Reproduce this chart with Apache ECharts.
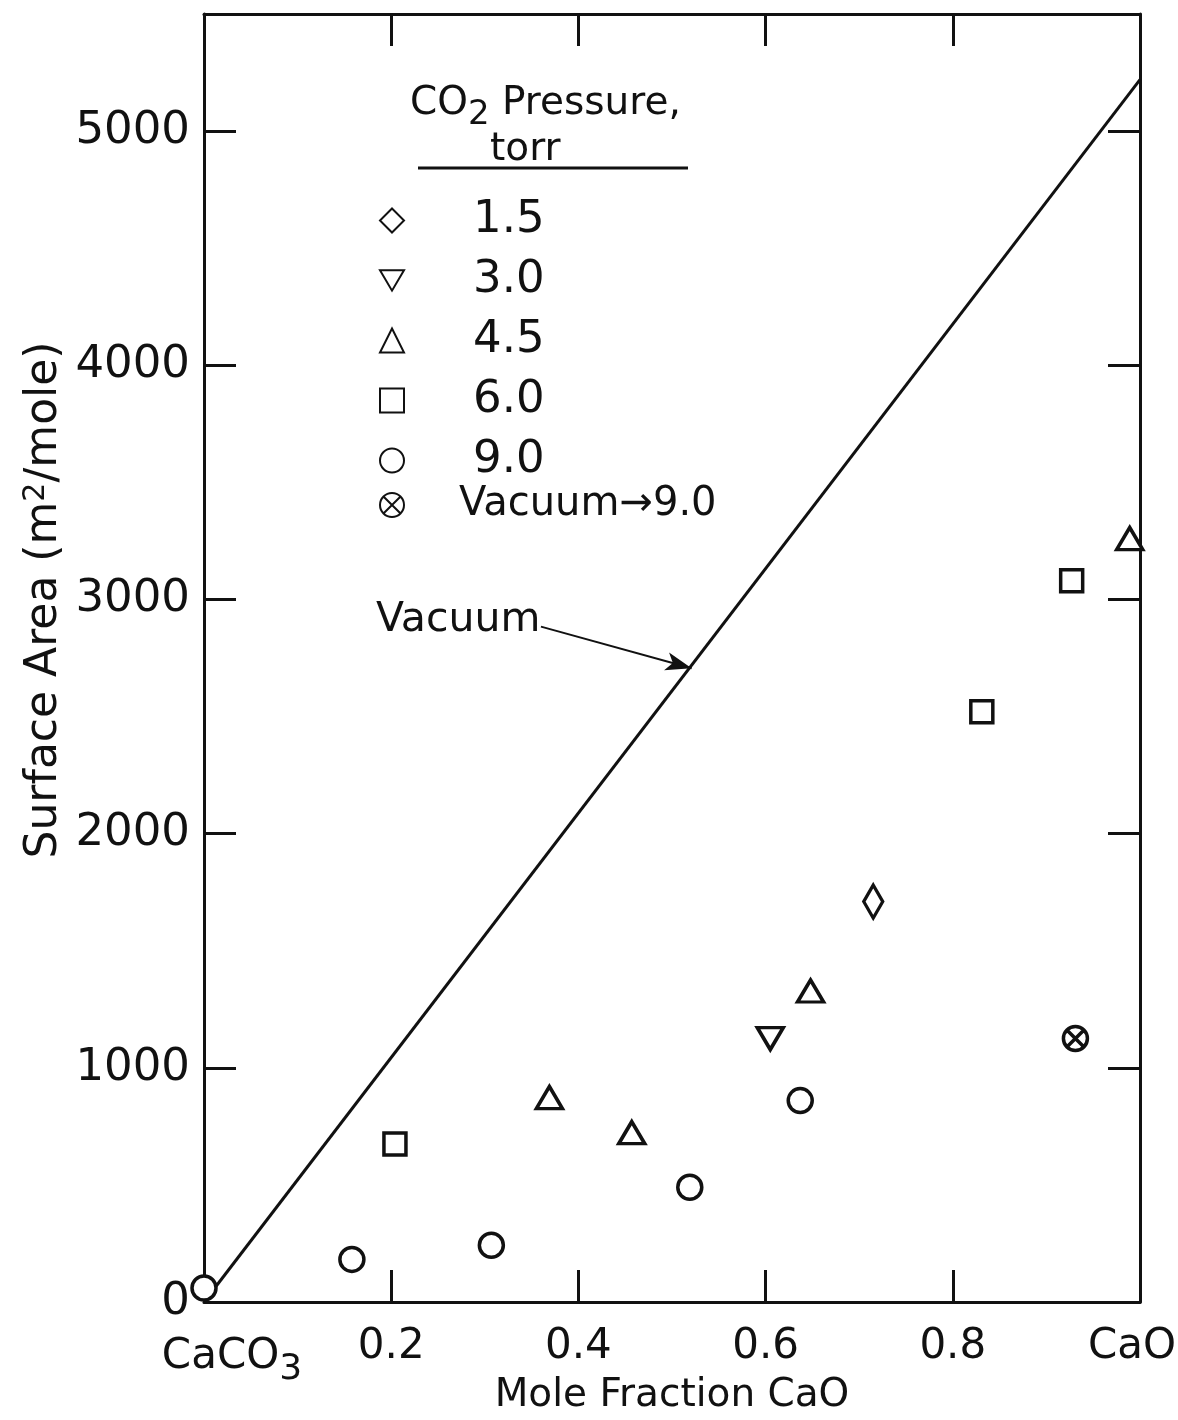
<!DOCTYPE html>
<html>
<head>
<meta charset="utf-8">
<script src="https://cdn.jsdelivr.net/npm/echarts@6/dist/echarts.min.js"></script>
<style>
  html, body { margin: 0; padding: 0; background: #fff; }
  #main { width: 1178px; height: 1420px; }
</style>
</head>
<body>
<div id="main"></div>
<script>
// tick labels
var xTicks = [0, 0.2, 0.4, 0.6, 0.8, 1.0];
var xTickLabels = ['{n|CaCO}{s|3}', '0.2', '0.4', '0.6', '0.8', '{r|CaO}'];

// data points: [mole fraction CaO, surface area]
var p15 = [[0.715, 1710]];
var p30 = [[0.605, 1125]];
var p45 = [[0.369, 873], [0.457, 723], [0.648, 1328], [0.989, 3260]];
var p60 = [[0.204, 675], [0.831, 2520], [0.927, 3080]];
var p90 = [[0, 60], [0.158, 182], [0.307, 242], [0.519, 490], [0.637, 860]];
var pVac90 = [[0.931, 1125]];
var vacuumLine = [[0, 0], [1.0, 5220]];
var vacuumArrow = [[0.36, 2884], [0.521, 2706]];

var FONT = 'DejaVu Sans';
var INK = '#111';
var otimes = 'path://M0,-10A10,10,0,1,1,0,10A10,10,0,1,1,0,-10ZM-6.5,-6.5L6.5,6.5M6.5,-6.5L-6.5,6.5';
var downTri = 'path://M0,0L26,0L13,22Z';

function pts(name, data, symbol, size) {
  return {
    name: name,
    type: 'scatter',
    data: data,
    symbol: symbol,
    symbolSize: size,
    itemStyle: { color: '#fff', borderColor: INK, borderWidth: 3.5, opacity: 1 },
    z: 5
  };
}

var axisLine = { show: true, onZero: false, lineStyle: { color: INK, width: 3 } };
var axisTick = { show: true, inside: true, length: 32, lineStyle: { color: INK, width: 3 } };

var chart = echarts.init(document.getElementById('main'));
chart.setOption({
  backgroundColor: '#fff',
  animation: false,
  textStyle: { fontFamily: FONT, color: INK },
  grid: { left: 204, right: 38, top: 14, bottom: 118, outerBoundsMode: 'none', containLabel: false },
  xAxis: [{
    type: 'value', min: 0, max: 1, interval: 0.2, position: 'bottom',
    axisLine: axisLine, axisTick: axisTick, splitLine: { show: false },
    axisLabel: {
      margin: 24, fontSize: 42, color: INK, fontFamily: FONT,
      formatter: function (v) {
        var i = xTicks.findIndex(function (t) { return Math.abs(t - v) < 1e-6; });
        return i < 0 ? '' : xTickLabels[i];
      },
      rich: {
        n: { fontSize: 42, fontFamily: FONT, color: INK, padding: [0, 0, 0, 56] },
        s: { fontSize: 36, fontFamily: FONT, color: INK, padding: [26, 0, 0, 0] },
        r: { fontSize: 42, fontFamily: FONT, color: INK, padding: [0, 16, 0, 0] }
      }
    }
  }, {
    type: 'value', min: 0, max: 1, interval: 0.2, position: 'top',
    axisLine: axisLine, axisTick: axisTick, splitLine: { show: false },
    axisLabel: { show: false }
  }],
  yAxis: [{
    type: 'value', min: 0, max: 5500, interval: 1000, position: 'left',
    axisLine: axisLine, axisTick: axisTick, splitLine: { show: false },
    axisLabel: {
      margin: 14, fontSize: 45, color: INK, fontFamily: FONT, showMaxLabel: false,
      formatter: function (v) { return String(v); }
    }
  }, {
    type: 'value', min: 0, max: 5500, interval: 1000, position: 'right',
    axisLine: axisLine, axisTick: axisTick, splitLine: { show: false },
    axisLabel: { show: false }
  }],
  legend: [{
    data: [
      { name: '1.5' },
      { name: '3.0', icon: downTri },
      { name: '4.5' },
      { name: '6.0' },
      { name: '9.0' }
    ],
    orient: 'vertical', left: 374, top: 193, itemGap: 15,
    itemWidth: 24, itemHeight: 24,
    textStyle: { fontSize: 45, color: INK, fontFamily: FONT, padding: [0, 0, 0, 64] }
  }, {
    data: ['Vacuum\u21929.0'],
    orient: 'vertical', left: 374, top: 480,
    itemWidth: 24, itemHeight: 24,
    textStyle: { fontSize: 40, color: INK, fontFamily: FONT, padding: [0, 0, 0, 50] }
  }],
  graphic: [
    {
      type: 'text', left: 410, top: 84,
      style: {
        text: '{a|CO}{b|2}{a| Pressure,}',
        rich: {
          a: { fontSize: 39, fontFamily: FONT, fill: INK },
          b: { fontSize: 34, fontFamily: FONT, fill: INK, padding: [24, 0, 0, 0] }
        }
      }
    },
    { type: 'text', left: 490, top: 130, style: { text: 'torr', fontSize: 39, fontFamily: FONT, fill: INK } },
    { type: 'line', shape: { x1: 418, y1: 168, x2: 688, y2: 168 }, style: { stroke: INK, lineWidth: 3 } },
    { type: 'text', left: 376, top: 600, style: { text: 'Vacuum', fontSize: 41, fontFamily: FONT, fill: INK } },
    {
      type: 'text', x: 672, y: 1396,
      style: {
        text: 'Mole Fraction CaO', fontSize: 39, fontFamily: FONT, fill: INK,
        align: 'center', verticalAlign: 'middle'
      }
    },
    {
      type: 'text', x: 45, y: 600, rotation: Math.PI / 2,
      style: {
        text: '{a|Surface Area (m}{b|2}{a|/mole)}',
        align: 'center', verticalAlign: 'middle',
        rich: {
          a: { fontSize: 44, fontFamily: FONT, fill: INK },
          b: { fontSize: 30, fontFamily: FONT, fill: INK, padding: [0, 0, 18, 0] }
        }
      }
    }
  ],
  series: [
    {
      name: 'Vacuum', type: 'line', data: vacuumLine, symbol: 'none',
      lineStyle: { color: INK, width: 3 }, z: 3,
      markLine: {
        silent: true, symbol: ['none', 'arrow'], symbolSize: [14, 26],
        label: { show: false },
        lineStyle: { color: INK, width: 2, type: 'solid' },
        data: [[{ coord: vacuumArrow[0] }, { coord: vacuumArrow[1] }]]
      }
    },
    pts('1.5', p15, 'diamond', [19, 33]),
    pts('3.0', p30, downTri, [26, 22]),
    pts('4.5', p45, 'triangle', [26, 22]),
    pts('6.0', p60, 'rect', 22),
    pts('9.0', p90, 'circle', 24),
    pts('Vacuum\u21929.0', pVac90, otimes, 24)
  ]
});
</script>
</body>
</html>
